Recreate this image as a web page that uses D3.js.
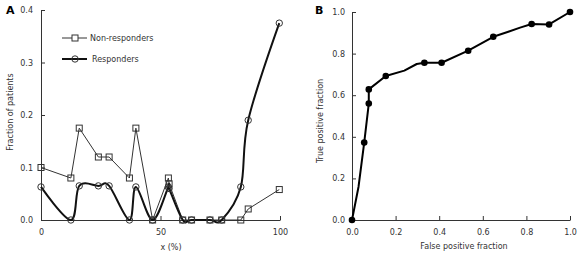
<!DOCTYPE html>
<html>
<head>
<meta charset="utf-8">
<script src="https://cdn.jsdelivr.net/npm/d3@7"></script>
<style>
  body { margin: 0; background: #fff; }
  text { font-family: "DejaVu Sans", Verdana, sans-serif; }
</style>
</head>
<body>
<div id="chart-area"></div>
<script>
/*
*    main.js
*/
// panel A: distribution of x (%)
var xPct = [0, 12.5, 16, 24, 28.5, 37, 39.7, 46.7, 53.3, 53.6, 59.3, 63, 70.7, 75.6, 83.6, 86.7, 99.7];
var nonResponders = [0.1, 0.08, 0.175, 0.12, 0.12, 0.08, 0.175, 0, 0.08, 0.069, 0, 0, 0, 0, 0, 0.021, 0.058];
var responders = [0.063, 0, 0.065, 0.065, 0.065, 0, 0.063, 0, 0.063, 0.06, 0, 0, 0, 0, 0.063, 0.19, 0.375];
var aYTicks = [0, 0.1, 0.2, 0.3, 0.4];
var aXTicks = [0, 50, 100];

// panel B: ROC curve
var fpr = [0, 0.03, 0.056, 0.077, 0.077, 0.155, 0.24, 0.297, 0.332, 0.411, 0.533, 0.648, 0.717, 0.771, 0.824, 0.904, 1.0];
var tpr = [0, 0.16, 0.372, 0.56, 0.628, 0.692, 0.718, 0.75, 0.756, 0.756, 0.814, 0.881, 0.905, 0.925, 0.942, 0.94, 1.0];
var rocMarker = [1, 0, 1, 1, 1, 1, 0, 0, 1, 1, 1, 1, 0, 0, 1, 1, 1];
var bTicks = [0, 0.2, 0.4, 0.6, 0.8, 1.0];

var width = 581;
var height = 255;
var ink = "#333";

var svg = d3.select("#chart-area")
  .append("svg")
  .attr("width", width)
  .attr("height", height);

function styleAxis(g) {
  g.select(".domain").attr("stroke", ink);
  g.selectAll(".tick line").attr("stroke", ink);
  g.selectAll(".tick text").attr("fill", ink).attr("font-size", "8px")
    .attr("font-family", "DejaVu Sans, Verdana, sans-serif");
}

// ---------- Panel A ----------
var xA = d3.scaleLinear().domain([0, 100]).range([41, 280]);
var yA = d3.scaleLinear().domain([0, 0.4]).range([220, 10]);

svg.append("g")
  .attr("transform", "translate(41,0)")
  .call(d3.axisLeft(yA).tickValues(aYTicks).tickFormat(d3.format(".1f"))
    .tickSizeInner(-4).tickSizeOuter(0).tickPadding(8))
  .call(styleAxis);

svg.append("g")
  .attr("transform", "translate(0,220)")
  .call(d3.axisBottom(xA).tickValues(aXTicks).tickFormat(d3.format("d"))
    .tickSizeInner(-4).tickSizeOuter(0).tickPadding(9))
  .call(styleAxis);

var nrData = xPct.map((d, i) => ({ x: d, y: nonResponders[i] }));
var rData = xPct.map((d, i) => ({ x: d, y: responders[i] }));

svg.append("path")
  .datum(nrData)
  .attr("fill", "none")
  .attr("stroke", ink)
  .attr("stroke-width", 1)
  .attr("d", d3.line().x(d => xA(d.x)).y(d => yA(d.y)));

svg.append("path")
  .datum(rData)
  .attr("fill", "none")
  .attr("stroke", "#111")
  .attr("stroke-width", 2)
  .attr("d", d3.line().curve(d3.curveCatmullRom.alpha(0)).x(d => xA(d.x)).y(d => yA(d.y)));

svg.selectAll(".sq").data(nrData).enter().append("rect")
  .attr("class", "sq")
  .attr("x", d => xA(d.x) - 3)
  .attr("y", d => yA(d.y) - 3)
  .attr("width", 6)
  .attr("height", 6)
  .attr("fill", "none")
  .attr("stroke", ink);

svg.selectAll(".ci").data(rData).enter().append("circle")
  .attr("class", "ci")
  .attr("cx", d => xA(d.x))
  .attr("cy", d => yA(d.y))
  .attr("r", 3.2)
  .attr("fill", "none")
  .attr("stroke", ink);

// legend
var legend = svg.append("g");
legend.append("line").attr("x1", 62).attr("x2", 87).attr("y1", 38).attr("y2", 38)
  .attr("stroke", ink);
legend.append("rect").attr("x", 72).attr("y", 35).attr("width", 6).attr("height", 6)
  .attr("fill", "#fff").attr("stroke", ink);
legend.append("text").attr("x", 90).attr("y", 41).attr("font-size", "8px")
  .attr("fill", ink).text("Non-responders");
legend.append("line").attr("x1", 62).attr("x2", 87).attr("y1", 59).attr("y2", 59)
  .attr("stroke", "#111").attr("stroke-width", 2);
legend.append("circle").attr("cx", 75).attr("cy", 59).attr("r", 3.2)
  .attr("fill", "none").attr("stroke", ink);
legend.append("text").attr("x", 92).attr("y", 62).attr("font-size", "8px")
  .attr("fill", ink).text("Responders");

svg.append("text")
  .attr("transform", "translate(13,112) rotate(-90)")
  .attr("text-anchor", "middle")
  .attr("font-size", "8px")
  .attr("fill", ink)
  .text("Fraction of patients");

svg.append("text")
  .attr("x", 171).attr("y", 250)
  .attr("text-anchor", "middle")
  .attr("font-size", "8px")
  .attr("fill", ink)
  .text("x (%)");

svg.append("text")
  .attr("x", 6).attr("y", 14)
  .attr("font-size", "11px")
  .attr("font-weight", "bold")
  .text("A");

// ---------- Panel B ----------
var xB = d3.scaleLinear().domain([0, 1]).range([352, 570]);
var yB = d3.scaleLinear().domain([0, 1]).range([220, 12]);

svg.append("g")
  .attr("transform", "translate(352,0)")
  .call(d3.axisLeft(yB).tickValues(bTicks).tickFormat(d3.format(".1f"))
    .tickSizeInner(-4).tickSizeOuter(0).tickPadding(7))
  .call(styleAxis);

svg.append("g")
  .attr("transform", "translate(0,220)")
  .call(d3.axisBottom(xB).tickValues(bTicks).tickFormat(d3.format(".1f"))
    .tickSizeInner(-4).tickSizeOuter(0).tickPadding(9))
  .call(styleAxis);

var rocData = fpr.map((d, i) => ({ x: d, y: tpr[i], m: rocMarker[i] }));

svg.append("path")
  .datum(rocData)
  .attr("fill", "none")
  .attr("stroke", "#000")
  .attr("stroke-width", 2)
  .attr("stroke-linejoin", "round")
  .attr("d", d3.line().x(d => xB(d.x)).y(d => yB(d.y)));

svg.selectAll(".roc").data(rocData.filter(d => d.m)).enter().append("circle")
  .attr("class", "roc")
  .attr("cx", d => xB(d.x))
  .attr("cy", d => yB(d.y))
  .attr("r", 3.3)
  .attr("fill", "#000");

svg.append("text")
  .attr("transform", "translate(320,121) rotate(-90)")
  .attr("text-anchor", "middle")
  .attr("dominant-baseline", "middle")
  .attr("font-size", "8px")
  .attr("fill", ink)
  .text("True positive fraction");

svg.append("text")
  .attr("x", 464).attr("y", 249)
  .attr("text-anchor", "middle")
  .attr("font-size", "8px")
  .attr("fill", ink)
  .text("False positive fraction");

svg.append("text")
  .attr("x", 315).attr("y", 14)
  .attr("font-size", "11px")
  .attr("font-weight", "bold")
  .text("B");
</script>
</body>
</html>
